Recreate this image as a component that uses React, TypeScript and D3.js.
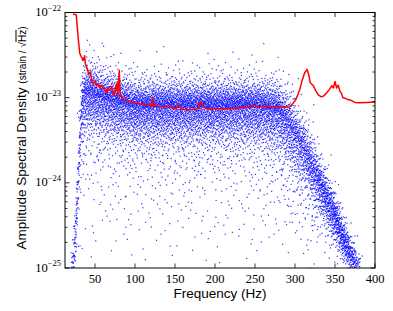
import React, { useEffect, useRef } from "react";
import * as d3 from "d3";

// red ASD curve (Hz, strain/sqrt(Hz))
const curveFreq = [
  22.5, 26.5, 28, 29.5, 31, 33, 35.5, 37, 38, 39.5, 42, 44, 46, 48, 50, 52, 54, 56, 58, 60,
  62, 64.5, 66, 69, 71, 73, 75, 77.5, 78.5, 80.4, 81.5, 85, 90, 95, 100, 106, 112, 118, 121,
  122, 123.5, 131, 138, 143, 148, 152, 155, 158, 165, 173, 179, 182, 185, 190, 202, 219, 231,
  240, 247, 255, 262, 277, 285, 292, 296, 300, 303, 306, 309, 312, 315, 317, 319, 323, 326,
  329, 333, 336, 340, 343, 346, 348, 350, 352, 354, 356, 358, 360, 363, 366, 370, 375, 380,
  390, 400,
];
const curveAsd = [
  9.6e-23, 9.4e-23, 6.5e-23, 4.5e-23, 3.3e-23, 3.0e-23, 2.75e-23, 3.1e-23, 2.5e-23, 2.3e-23,
  1.9e-23, 2.0e-23, 1.6e-23, 1.45e-23, 1.55e-23, 1.38e-23, 1.45e-23, 1.3e-23, 1.4e-23,
  1.32e-23, 1.25e-23, 1.12e-23, 1.3e-23, 1.23e-23, 1.35e-23, 1.07e-23, 1.15e-23, 1.5e-23,
  1.1e-23, 2.1e-23, 1.05e-23, 9.8e-24, 9.3e-24, 8.9e-24, 8.6e-24, 8.5e-24, 8.4e-24, 8.2e-24,
  8.0e-24, 1.0e-23, 8.2e-24, 7.8e-24, 7.9e-24, 8.1e-24, 7.4e-24, 7.6e-24, 8.2e-24, 7.3e-24,
  7.2e-24, 7.25e-24, 7.4e-24, 9.0e-24, 7.8e-24, 7.4e-24, 7.4e-24, 7.4e-24, 7.6e-24, 7.7e-24,
  8.1e-24, 7.9e-24, 7.9e-24, 7.9e-24, 7.8e-24, 7.7e-24, 8.2e-24, 9.2e-24, 1.05e-23, 1.25e-23,
  1.6e-23, 1.95e-23, 2.15e-23, 1.9e-23, 1.5e-23, 1.38e-23, 1.2e-23, 1.08e-23, 1.02e-23,
  1.05e-23, 1.15e-23, 1.25e-23, 1.38e-23, 1.3e-23, 1.55e-23, 1.3e-23, 1.4e-23, 1.2e-23,
  1.12e-23, 1.0e-23, 9.8e-24, 9.5e-24, 9.3e-24, 8.8e-24, 8.7e-24, 8.8e-24, 8.9e-24,
];

// blue point cloud: envelope (log10 strain)
const cloudFreq = [21, 24, 26, 28, 30, 32, 34, 38, 45, 60, 100, 150, 200, 250, 280, 290, 300, 310, 320, 330, 340, 350, 360, 370, 380, 386];
const cloudCenter = [-25.1, -24.85, -24.55, -24.15, -23.75, -23.35, -23.05, -22.97, -22.97, -23.02, -23.12, -23.12, -23.12, -23.12, -23.17, -23.3, -23.45, -23.6, -23.8, -24.0, -24.2, -24.4, -24.65, -24.85, -25.0, -25.1];
const cloudUp = [0.2, 0.2, 0.2, 0.2, 0.22, 0.22, 0.2, 0.2, 0.19, 0.18, 0.17, 0.17, 0.17, 0.17, 0.18, 0.2, 0.2, 0.2, 0.19, 0.17, 0.16, 0.15, 0.13, 0.12, 0.1, 0.1];
const cloudDown = [0.2, 0.2, 0.22, 0.25, 0.28, 0.3, 0.3, 0.3, 0.28, 0.27, 0.27, 0.27, 0.27, 0.28, 0.3, 0.32, 0.3, 0.28, 0.25, 0.22, 0.2, 0.18, 0.15, 0.12, 0.1, 0.1];
const cloudDensity = [0.3, 0.55, 0.6, 0.6, 0.6, 0.7, 0.9, 1, 1, 1, 1, 1, 1, 1, 1, 0.95, 0.85, 0.85, 0.85, 0.85, 0.85, 0.85, 0.8, 0.6, 0.3, 0];

const xTicks = [50, 100, 150, 200, 250, 300, 350, 400];
const yDecades = [-25, -24, -23, -22];

// deterministic low-discrepancy sequence, used to spread the dots inside the envelope
const halton = (i: number, b: number) => {
  let f = 1;
  let r = 0;
  while (i > 0) {
    f /= b;
    r += f * (i % b);
    i = Math.floor(i / b);
  }
  return r;
};

const App = () => {
  const svgRef = useRef<SVGSVGElement>(null);

  useEffect(() => {
    const svg = d3.select(svgRef.current);
    svg.selectAll("*").remove();

    const left = 65, right = 375, top = 12.5, bottom = 268;
    const x = d3.scaleLinear().domain([12.5, 400]).range([left, right]);
    const y = d3.scaleLog().domain([1e-25, 1e-22]).range([bottom, top]);

    const centerAt = d3.scaleLinear().domain(cloudFreq).range(cloudCenter).clamp(true);
    const upAt = d3.scaleLinear().domain(cloudFreq).range(cloudUp).clamp(true);
    const downAt = d3.scaleLinear().domain(cloudFreq).range(cloudDown).clamp(true);
    const densAt = d3.scaleLinear().domain(cloudFreq).range(cloudDensity).clamp(true);

    const dots: { f: number; lg: number }[] = [];
    for (let i = 1; i < 9000; i++) {
      const f = 20 + halton(i, 2) * 366;
      if (halton(i, 5) > densAt(f)) continue;
      const u = Math.min(Math.max(halton(i, 3), 1e-4), 1 - 1e-4);
      const t = halton(i, 7);
      const c = centerAt(f);
      let lg: number;
      if (t < 0.045 && f > 30 && f < 330) {
        const lo = -25.05;
        const hi = c - 2 * downAt(f);
        lg = lo + (hi - lo) * Math.sqrt(u);
      } else {
        const z = Math.log(u / (1 - u)) * 0.55;
        lg = c + z * (z > 0 ? upAt(f) : downAt(f));
      }
      if (lg < -25.02 || lg > -22.3) continue;
      dots.push({ f, lg });
    }

    svg
      .append("defs")
      .append("clipPath")
      .attr("id", "plotArea")
      .append("rect")
      .attr("x", left)
      .attr("y", top)
      .attr("width", right - left)
      .attr("height", bottom - top);

    const plot = svg.append("g").attr("clip-path", "url(#plotArea)");

    plot
      .selectAll("rect.dot")
      .data(dots)
      .enter()
      .append("rect")
      .attr("class", "dot")
      .attr("x", (d) => x(d.f) - 0.6)
      .attr("y", (d) => y(Math.pow(10, d.lg)) - 0.6)
      .attr("width", 1.2)
      .attr("height", 1.2)
      .attr("fill", "#0000ff")
      .attr("opacity", 0.8);

    const line = d3
      .line<number>()
      .x((d, i) => x(curveFreq[i]))
      .y((d) => y(d));

    plot
      .append("path")
      .datum(curveAsd)
      .attr("d", line)
      .attr("fill", "none")
      .attr("stroke", "#ff0000")
      .attr("stroke-width", 1.5)
      .attr("stroke-linejoin", "round");

    // frame
    svg
      .append("rect")
      .attr("x", left)
      .attr("y", top)
      .attr("width", right - left)
      .attr("height", bottom - top)
      .attr("fill", "none")
      .attr("stroke", "#000")
      .attr("stroke-width", 1);

    const ticks = svg.append("g").attr("stroke", "#000").attr("stroke-width", 0.8);

    xTicks.forEach((v) => {
      ticks.append("line").attr("x1", x(v)).attr("x2", x(v)).attr("y1", bottom).attr("y2", bottom - 4.5);
      ticks.append("line").attr("x1", x(v)).attr("x2", x(v)).attr("y1", top).attr("y2", top + 4.5);
    });

    yDecades.forEach((d) => {
      const yy = y(Math.pow(10, d));
      ticks.append("line").attr("x1", left).attr("x2", left + 4.5).attr("y1", yy).attr("y2", yy);
      ticks.append("line").attr("x1", right).attr("x2", right - 4.5).attr("y1", yy).attr("y2", yy);
      if (d < -22) {
        for (let k = 2; k <= 9; k++) {
          const ym = y(k * Math.pow(10, d));
          ticks.append("line").attr("x1", left).attr("x2", left + 2.5).attr("y1", ym).attr("y2", ym);
          ticks.append("line").attr("x1", right).attr("x2", right - 2.5).attr("y1", ym).attr("y2", ym);
        }
      }
    });

    const serif = "'Liberation Serif', 'DejaVu Serif', serif";
    const sans = "'Liberation Sans', 'DejaVu Sans', sans-serif";

    svg
      .append("g")
      .selectAll("text")
      .data(xTicks)
      .enter()
      .append("text")
      .attr("x", (d) => x(d))
      .attr("y", 283)
      .attr("text-anchor", "middle")
      .attr("font-family", serif)
      .attr("font-size", 12.5)
      .text((d) => d);

    const yl = svg
      .append("g")
      .selectAll("text")
      .data(yDecades)
      .enter()
      .append("text")
      .attr("x", 61)
      .attr("y", (d) => y(Math.pow(10, d)) + 3.5)
      .attr("text-anchor", "end")
      .attr("font-family", serif)
      .attr("font-size", 12.5);
    yl.append("tspan").text("10");
    yl.append("tspan")
      .attr("dy", -5.5)
      .attr("font-size", 8.5)
      .text((d) => "\u2212" + Math.abs(d));

    svg
      .append("text")
      .attr("x", 220)
      .attr("y", 298)
      .attr("text-anchor", "middle")
      .attr("font-family", sans)
      .attr("font-size", 13.5)
      .text("Frequency (Hz)");

    const ylab = svg
      .append("text")
      .attr("transform", "translate(25.5,138) rotate(-90)")
      .attr("text-anchor", "middle")
      .attr("font-family", sans)
      .attr("font-size", 13.5);
    ylab.append("tspan").text("Amplitude Spectral Density ");
    ylab.append("tspan").attr("font-size", 10).text("(strain / \u221A");
    ylab.append("tspan").attr("font-size", 10).style("text-decoration", "overline").text("Hz");
    ylab.append("tspan").attr("font-size", 10).text(")");
  }, []);

  return (
    <svg
      ref={svgRef}
      width={393}
      height={311}
      style={{ position: "absolute", left: 0, top: 0, background: "#fff" }}
    />
  );
};

export default App;
